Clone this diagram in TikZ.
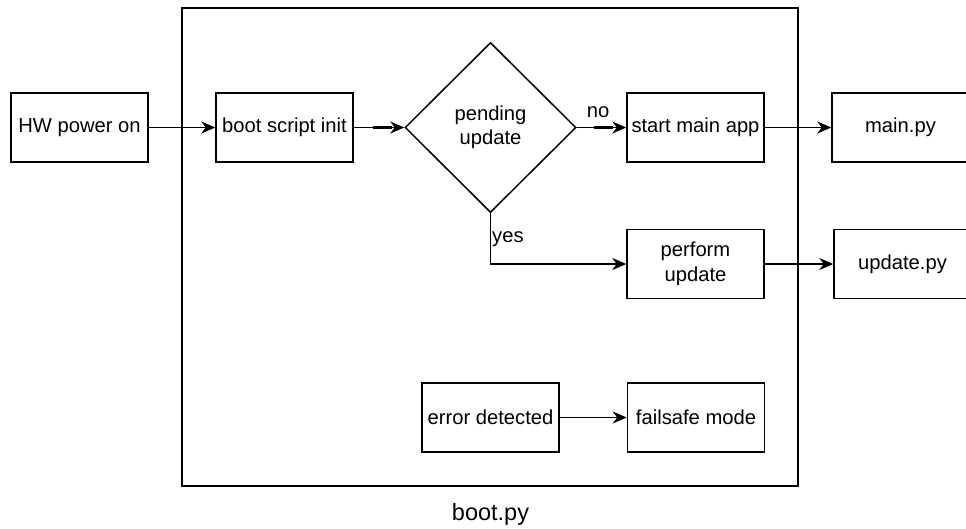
\documentclass[tikz,border=0pt]{standalone}
\usepackage{fontspec}
\setmainfont{Liberation Sans}
\usetikzlibrary{shapes.geometric,arrows.meta}
\begin{document}
\begin{tikzpicture}[x=1pt,y=-1pt,
  every node/.style={font=\fontsize{20.2}{24.5}\selectfont},
  stepbox/.style={draw,line width=1.5pt,rectangle,inner sep=0pt,
    minimum width=137pt,minimum height=69pt,align=center},
  decision/.style={draw,line width=1.5pt,diamond,inner sep=0pt,
    minimum width=171pt,minimum height=170pt,align=center},
  flow/.style={line width=1.5pt,-{Stealth[length=14pt,width=12pt,inset=4.5pt]}},
  stub/.style={line width=2.8pt},
  lbl/.style={inner sep=0pt}]
\useasboundingbox (0,0) rectangle (966,528);
\fill[white] (0,0) rectangle (966,528);

% boot.py container
\node[draw,line width=1.5pt,inner sep=0pt,minimum width=616pt,minimum height=478pt]
  (frame) at (490,247) {};
\node[lbl,anchor=base,font=\fontsize{23.5}{28}\selectfont] (bootlbl) at (490.5,520) {boot.py};

% steps
\node[stepbox] (hw) at (79.5,127.5) {HW power on};
\node[stepbox] (init) at (284.5,127.5) {boot script init};
\node[decision] (pend) at (490.5,127.5) {pending\\update};
\node[stepbox] (start) at (695.5,127.5) {start main app};
\node[stepbox] (mainpy) at (900.5,127.5) {main.py};
\node[stepbox] (perform) at (695.5,264) {perform\\update};
\node[stepbox] (updpy) at (902.5,264) {update.py};
\node[stepbox] (err) at (490.5,417.5) {error detected};
\node[stepbox] (fail) at (696,417.5) {failsafe mode};

% connectors
\draw[flow] (hw) -- (init);
\draw[flow] (init) -- (pend.west);
\draw[stub] ([xshift=19pt]init.east) -- ([xshift=-12pt]pend.west);
\draw[flow] (pend.east) -- (start);
\draw[stub] ([xshift=17pt]pend.east) -- ([xshift=-13pt]start.west);
\node[lbl] (nolbl) at (598,112) {no};
\draw[flow] (pend.south) |- (perform.west);
\node[lbl,anchor=west] (yeslbl) at (492,239) {yes};
\draw[flow] (start) -- (mainpy);
\draw[flow] (perform) -- (updpy);
\draw[flow] (err) -- (fail);
\end{tikzpicture}
\end{document}
